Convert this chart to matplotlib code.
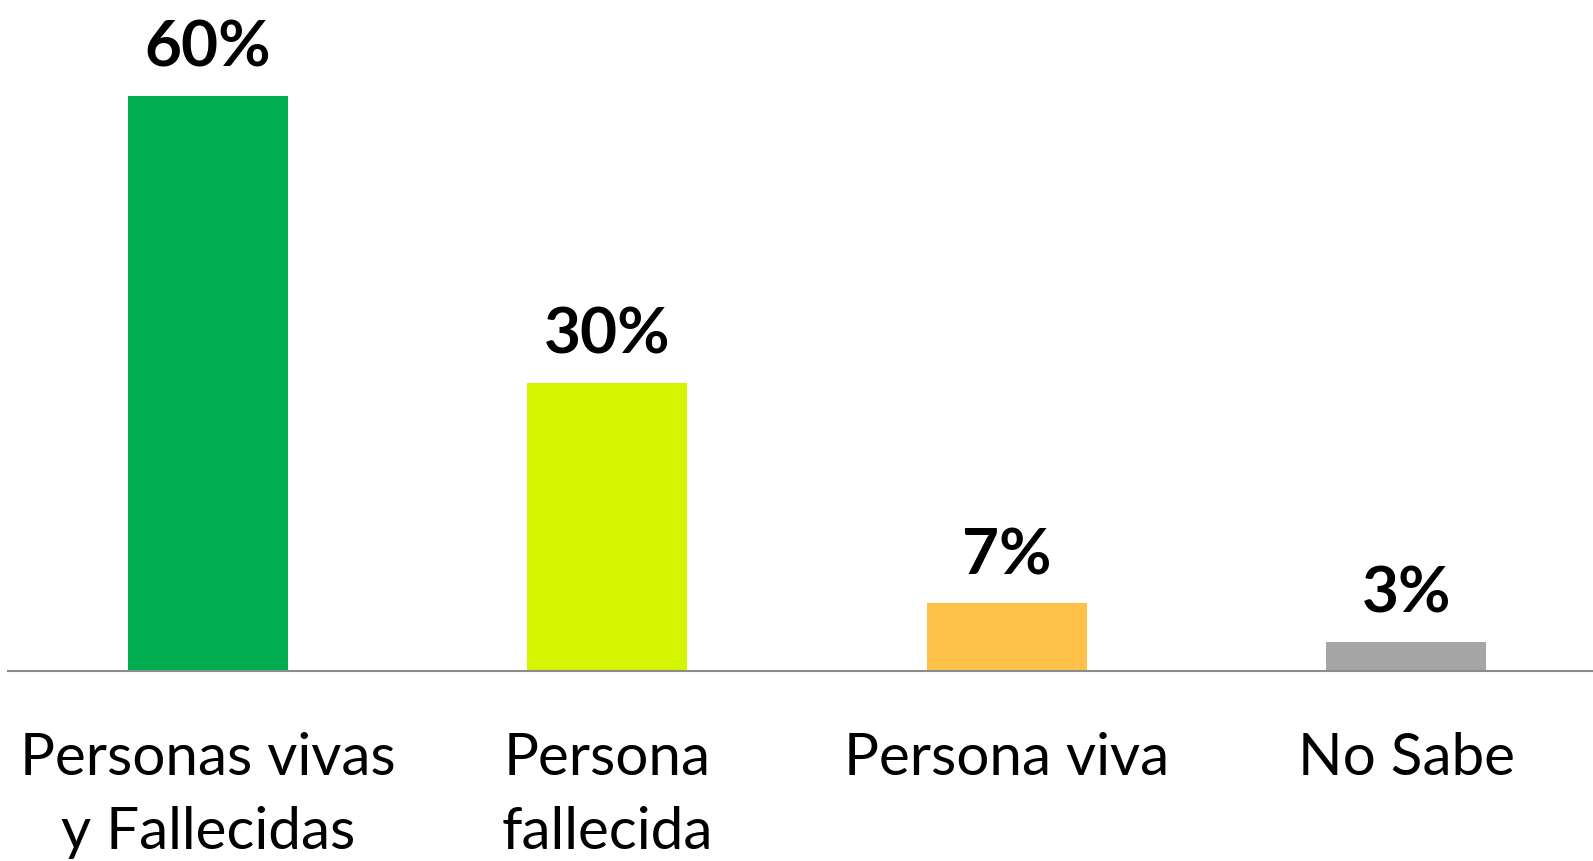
#!/usr/bin/env python3
# -*- coding: utf-8 -*-

import matplotlib
matplotlib.use("Agg")
import matplotlib.pyplot as plt

# Datos
categorias = ["Personas vivas\ny Fallecidas", "Persona\nfallecida", "Persona viva", "No Sabe"]
valores = [60, 30, 7, 3]
etiquetas = ["60%", "30%", "7%", "3%"]
colores = ["#00AE50", "#D3F500", "#FFC14A", "#A6A6A6"]

plt.rcParams["font.family"] = ["Lato", "DejaVu Sans"]

fig = plt.figure(figsize=(15.93, 8.61), dpi=100)
ax = fig.add_axes([8 / 1593, 190.5 / 861, 1585 / 1593, 670.5 / 861])

x = list(range(len(categorias)))
ax.bar(x, valores, width=0.4, color=colores, zorder=2)

# etiquetas de valor encima de cada barra
for xi, v, t in zip(x, valores, etiquetas):
    ax.annotate(t, (xi, v), xytext=(0, 21), textcoords="offset points",
                ha="center", va="baseline", fontsize=46, fontweight="bold",
                color="black")

ax.set_xlim(-0.5, 3.4675)
ax.set_ylim(0, 70)

ax.set_xticks(x)
ax.set_xticklabels(categorias, fontsize=42, linespacing=1.5)
ax.tick_params(axis="x", length=0, pad=44)
ax.set_yticks([])

for s in ["top", "right", "left"]:
    ax.spines[s].set_visible(False)
ax.spines["bottom"].set_color("#8C8C8C")
ax.spines["bottom"].set_linewidth(1.5)

fig.savefig("out.png", dpi=100)
